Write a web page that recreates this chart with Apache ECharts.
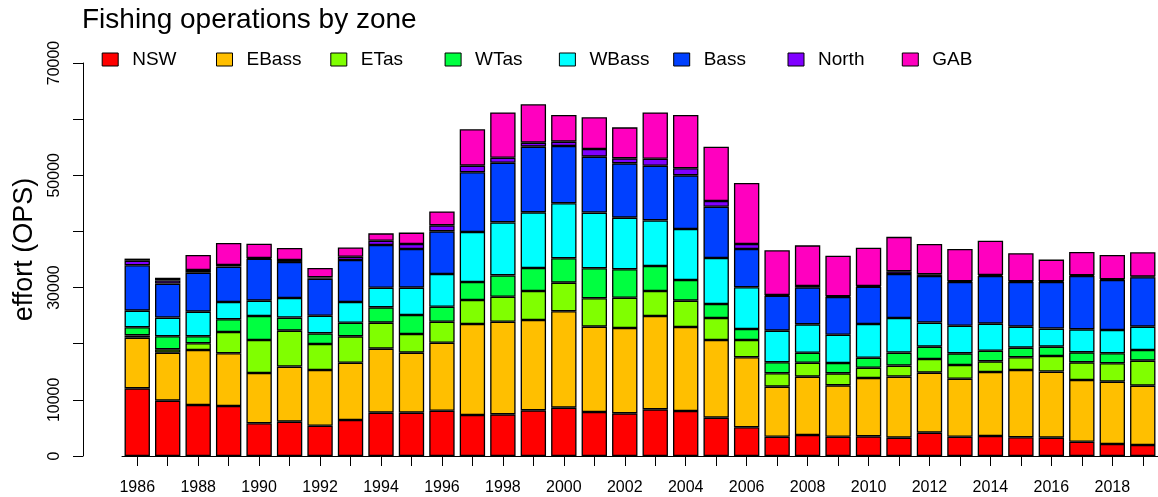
<!DOCTYPE html>
<html>
<head>
<meta charset="utf-8">
<script src="https://cdn.jsdelivr.net/npm/echarts@6/dist/echarts.min.js"></script>
<style>
  html, body { margin: 0; padding: 0; background: #fff; }
  #chart { width: 1158px; height: 497px; }
</style>
</head>
<body>
<div id="chart"></div>
<script>
// years and effort per zone (OPS)
const years = ["1986", "1987", "1988", "1989", "1990", "1991", "1992", "1993", "1994", "1995",
  "1996", "1997", "1998", "1999", "2000", "2001", "2002", "2003", "2004", "2005",
  "2006", "2007", "2008", "2009", "2010", "2011", "2012", "2013", "2014", "2015",
  "2016", "2017", "2018", "2019"];

const nsw = [12050, 9860, 9080, 8910, 5820, 6120, 5400, 6410, 7720, 7720, 8070, 7300, 7420, 8130, 8610, 7840, 7600,
  8310, 8020, 6830, 5110, 3440, 3740, 3440, 3500, 3270, 4160, 3440, 3560, 3330, 3270, 2550, 2140, 1960];
const ebass = [9020, 8550, 9800, 9380, 8970, 9800, 9910, 10210, 11400, 10690, 12110, 16210, 16500, 16090, 17160, 15200, 15200,
  16620, 14960, 13830, 12470, 8910, 10390, 9140, 10390, 10870, 10690, 10330, 11400, 11990, 11760, 10980, 11100, 10570];
const etas = [420, 590, 1190, 3800, 5880, 6410, 4630, 4690, 4630, 3320, 3740, 4270, 4450, 5170, 5110, 5050, 5400,
  4450, 4690, 3920, 3090, 2380, 2490, 2140, 1840, 1960, 2430, 2430, 1900, 2260, 2790, 3150, 3270, 4450];
const wtas = [1430, 2320, 1250, 2260, 4270, 2320, 1900, 2430, 2730, 3390, 2670, 3210, 3800, 4100, 4330, 5340, 5050,
  4450, 3680, 2490, 1960, 1960, 1780, 1840, 1780, 2320, 2200, 2080, 1900, 1720, 1660, 1780, 1780, 1900];
const wbass = [2970, 3330, 4390, 3090, 2730, 3500, 3150, 3680, 3500, 4870, 5820, 8910, 9440, 9910, 9800, 9920, 9200,
  8130, 9080, 8190, 7420, 5640, 5050, 5050, 6000, 6170, 4280, 4930, 4810, 3740, 3210, 4100, 4160, 4160];
const bass = [8080, 6060, 6950, 6290, 7480, 6410, 6590, 7480, 7600, 6890, 7600, 10630, 10630, 11700, 10210, 9970, 9680,
  9740, 9560, 9140, 6830, 6230, 6590, 6710, 6650, 7840, 8310, 7780, 8490, 7960, 8310, 9500, 8910, 8790];
const north = [830, 540, 470, 300, 120, 360, 240, 590, 770, 890, 1070, 1190, 890, 710, 770, 1370, 890,
  1250, 1250, 1010, 890, 120, 240, 120, 120, 480, 300, 120, 180, 120, 120, 120, 120, 120];
const gab = [360, 480, 2670, 3920, 2550, 2140, 1660, 1660, 1310, 2020, 2490, 6470, 8070, 6830, 4750, 5640, 5520,
  8250, 9500, 9680, 10870, 7960, 7240, 7240, 6830, 6120, 5400, 5760, 6120, 4990, 3860, 4160, 4330, 4330];

const zones = ["NSW", "EBass", "ETas", "WTas", "WBass", "Bass", "North", "GAB"];
const zoneData = [nsw, ebass, etas, wtas, wbass, bass, north, gab];
// rainbow(8)
const colours = ["#FF0000", "#FFBF00", "#80FF00", "#00FF40", "#00FFFF", "#0040FF", "#8000FF", "#FF00BF"];

// y labels R kept (the others were dropped)
const yTickLabels = [0, 10000, 30000, 50000, 70000];

const font = "'Liberation Sans', Arial, Helvetica, sans-serif";

// R lays the legend out on an even pitch, so one legend per entry
const legendLeft0 = 101.7;
const legendPitch = 114.3;

const chart = echarts.init(document.getElementById("chart"));

const series = zones.map((name, i) => ({
  name: name,
  type: "bar",
  stack: "total",
  barCategoryGap: "16.7%",
  data: zoneData[i],
  itemStyle: { color: colours[i], borderColor: "#000", borderWidth: 1.3 },
  emphasis: { disabled: true }
}));

const legends = zones.map((name, i) => ({
  data: [name],
  left: legendLeft0 + i * legendPitch,
  top: 50,
  padding: 0,
  itemWidth: 16,
  itemHeight: 13,
  icon: "rect",
  selectedMode: false,
  itemStyle: { borderColor: "#000", borderWidth: 1 },
  textStyle: { fontFamily: font, fontSize: 19, color: "#000", padding: [0, 0, 0, 9] }
}));

chart.setOption({
  animation: false,
  textStyle: { fontFamily: font },
  title: {
    text: "Fishing operations by zone",
    left: 82,
    top: 6,
    padding: 0,
    textStyle: { fontFamily: font, fontSize: 28, fontWeight: "normal", color: "#000" }
  },
  legend: legends,
  grid: { left: 122, width: 1037, top: 63, bottom: 41 },
  xAxis: {
    type: "category",
    data: years,
    axisLine: { show: true, lineStyle: { color: "#000", width: 1 } },
    axisTick: { show: true, alignWithLabel: true, interval: 0, inside: false, length: 10, lineStyle: { color: "#000", width: 1 } },
    axisLabel: { interval: 1, fontSize: 16, color: "#000", margin: 24, fontFamily: font }
  },
  yAxis: {
    type: "value",
    min: 0,
    max: 70000,
    interval: 10000,
    offset: 39,
    splitLine: { show: false },
    axisLine: { show: true, lineStyle: { color: "#000", width: 1 } },
    axisTick: { show: true, length: 10, lineStyle: { color: "#000" } },
    axisLabel: {
      rotate: 90,
      fontSize: 16,
      color: "#000",
      margin: 20,
      fontFamily: font,
      formatter: (v) => (yTickLabels.indexOf(v) >= 0 ? String(v) : "")
    },
    name: "effort (OPS)",
    nameLocation: "middle",
    nameRotate: 90,
    nameGap: 45,
    nameTextStyle: { fontFamily: font, fontSize: 27, color: "#000", padding: [0, 0, 0, 20] }
  },
  series: series
});
</script>
</body>
</html>
